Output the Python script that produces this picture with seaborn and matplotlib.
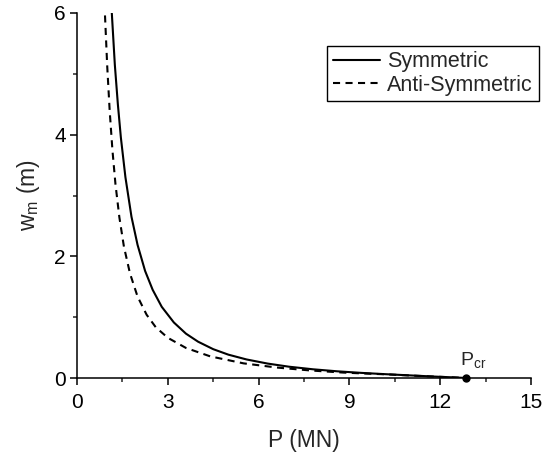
import matplotlib
matplotlib.use("Agg")
import matplotlib.pyplot as plt
from matplotlib.ticker import MultipleLocator
import seaborn as sns
import pandas as pd

# Data
sym_P = [1.15, 1.25, 1.35, 1.45, 1.60, 1.80, 2.00, 2.25, 2.50, 2.80, 3.20, 3.60, 4.00, 4.50, 5.00,
         5.60, 6.30, 7.00, 7.80, 8.60, 9.40, 10.20, 11.00, 11.80, 12.40, 12.85]
sym_w = [6.00, 5.15, 4.50, 3.95, 3.30, 2.65, 2.19, 1.76, 1.45, 1.17, 0.913, 0.729, 0.597, 0.474, 0.384,
         0.305, 0.237, 0.186, 0.143, 0.110, 0.084, 0.0625, 0.043, 0.0237, 0.011, 0.0]
anti_P = [0.925, 1.00, 1.08, 1.17, 1.27, 1.40, 1.55, 1.75, 2.00, 2.30, 2.60, 3.00, 3.60, 4.40, 5.50,
          6.60, 7.70, 8.80, 9.60, 10.20, 11.00, 11.80, 12.40, 12.85]
anti_w = [5.96, 5.11, 4.39, 3.75, 3.19, 2.64, 2.16, 1.72, 1.34, 1.04, 0.836, 0.661, 0.494, 0.356, 0.241,
          0.172, 0.124, 0.089, 0.0716, 0.0606, 0.041, 0.023, 0.0107, 0.0]
Pcr = [12.85]
Pcr_w = [0.0]
x_ticks = [0, 3, 6, 9, 12, 15]
y_ticks = [0, 2, 4, 6]

sns.set_style("ticks")
plt.rcParams['font.family'] = ['Liberation Sans', 'DejaVu Sans']
plt.rcParams['mathtext.fontset'] = 'custom'
plt.rcParams['mathtext.rm'] = 'Liberation Sans'

df_s = pd.DataFrame({"P": sym_P, "w": sym_w})
df_a = pd.DataFrame({"P": anti_P, "w": anti_w})

fig = plt.figure(figsize=(5.43, 4.55), dpi=100)
ax = fig.add_axes([77/543, 1 - 378/455, (531 - 77)/543, (378 - 13)/455])

sns.lineplot(data=df_s, x="P", y="w", ax=ax, color="black", lw=1.5, sort=False,
             label="Symmetric", estimator=None)
sns.lineplot(data=df_a, x="P", y="w", ax=ax, color="black", lw=1.5, sort=False,
             label="Anti-Symmetric", estimator=None)
ax.lines[1].set_linestyle((0, (3.4, 2.6)))
ax.plot(Pcr, Pcr_w, 'o', color='black', ms=5, clip_on=False, zorder=5)
ax.text(13.1, 0.21, r"P$_\mathregular{cr}$", fontsize=14, ha='center', va='baseline')

ax.set_xlim(0, 15)
ax.set_ylim(0, 6)
ax.set_xticks(x_ticks)
ax.set_yticks(y_ticks)
ax.xaxis.set_minor_locator(MultipleLocator(1.5))
ax.yaxis.set_minor_locator(MultipleLocator(1))
ax.tick_params(which='major', direction='out', length=5, width=1.1, labelsize=15, colors='black', pad=3)
ax.tick_params(axis='x', which='major', pad=6)
ax.tick_params(which='minor', direction='out', length=3, width=1.1)
for s in ['left', 'bottom']:
    ax.spines[s].set_linewidth(1.1)
    ax.spines[s].set_color('black')
sns.despine(ax=ax)

ax.set_xlabel("P (MN)", fontsize=16.5, labelpad=12)
ax.set_ylabel(r"w$_\mathregular{m}$ (m)", fontsize=16.5, labelpad=9)

leg = ax.legend(loc='upper left', bbox_to_anchor=(0.551, 0.91), fontsize=15.5,
                frameon=True, fancybox=False, handlelength=2.2, handletextpad=0.35,
                borderpad=0.25, labelspacing=0.12, borderaxespad=0)
leg.get_frame().set_edgecolor('black')
leg.get_frame().set_linewidth(1.0)
leg.get_frame().set_alpha(1)
leg.set_clip_on(False)

fig.savefig("out.png", dpi=100)
